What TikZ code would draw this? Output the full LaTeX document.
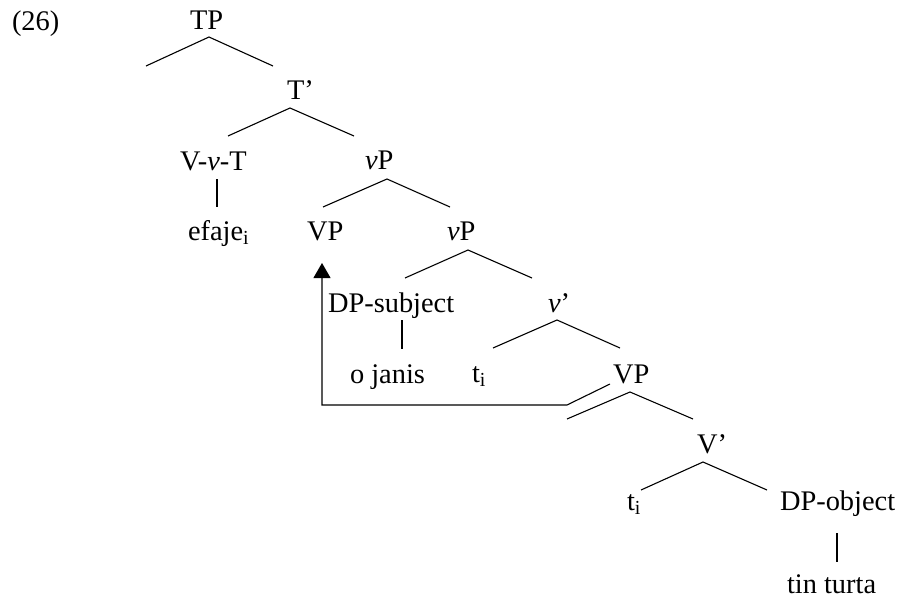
\documentclass[tikz,border=0pt]{standalone}
\usepackage{fontspec}
\setmainfont{Liberation Serif}
\usetikzlibrary{arrows.meta}
\begin{document}
\begin{tikzpicture}[x=0.5pt,y=-0.5pt,
  lbl/.style={anchor=base west, inner sep=0pt, outer sep=0pt, font=\fontsize{14.2}{17}\selectfont},
  br/.style={line width=0.55pt},
  mv/.style={line width=0.55pt, -{Triangle[length=7.5pt,width=8.5pt]}}]
\useasboundingbox (0,0) rectangle (901,600);
% labels
\node[lbl] (num) at (12,30) {(26)};
\node[lbl] (tp) at (190,29) {TP};
\node[lbl] (tbar) at (287,99) {T’};
\node[lbl] (vvt) at (180,170) {V-\textit{v}-T};
\node[lbl] (efaje) at (188,240) {efaje\textsubscript{i}};
\node[lbl] (vpA) at (365,169) {\textit{v}P};
\node[lbl] (VPA) at (307,240) {VP};
\node[lbl] (vpB) at (447,240) {\textit{v}P};
\node[lbl] (dps) at (328,312) {DP-subject};
\node[lbl] (vbar) at (548,312) {\textit{v}’};
\node[lbl] (ojanis) at (350,383) {o janis};
\node[lbl] (tA) at (472,382) {t\textsubscript{i}};
\node[lbl] (VPB) at (613,383) {VP};
\node[lbl] (Vbar) at (697,453) {V’};
\node[lbl] (tB) at (627,510) {t\textsubscript{i}};
\node[lbl] (dpo) at (780,510) {DP-object};
\node[lbl] (tin) at (787,593) {tin turta};
% branch points
\coordinate (tp-a) at (209,37);  \coordinate (tp-l) at (146,66);  \coordinate (tp-r) at (273,66);
\coordinate (tb-a) at (290,108); \coordinate (tb-l) at (228,136); \coordinate (tb-r) at (354,136);
\coordinate (vvt-t) at (217,179); \coordinate (vvt-b) at (217,207);
\coordinate (vpA-a) at (387,179); \coordinate (vpA-l) at (323,207); \coordinate (vpA-r) at (450,207);
\coordinate (vpB-a) at (468,250); \coordinate (vpB-l) at (405,278); \coordinate (vpB-r) at (532,278);
\coordinate (dps-t) at (402,320); \coordinate (dps-b) at (402,349);
\coordinate (vb-a) at (557,320); \coordinate (vb-l) at (493,348); \coordinate (vb-r) at (620,348);
\coordinate (VPB-a) at (630,392); \coordinate (VPB-l) at (567,419); \coordinate (VPB-r) at (693,419);
\coordinate (Vb-a) at (703,462); \coordinate (Vb-l) at (641,490); \coordinate (Vb-r) at (767,490);
\coordinate (dpo-t) at (837,533); \coordinate (dpo-b) at (837,562);
% movement path
\coordinate (mv-s) at (610,384); \coordinate (mv-k) at (567,405); \coordinate (mv-c) at (322,405); \coordinate (mv-e) at (322,263);
% branches
\draw[br] (tp-l) -- (tp-a) -- (tp-r);
\draw[br] (tb-l) -- (tb-a) -- (tb-r);
\draw[br] (vvt-t) -- (vvt-b);
\draw[br] (vpA-l) -- (vpA-a) -- (vpA-r);
\draw[br] (vpB-l) -- (vpB-a) -- (vpB-r);
\draw[br] (dps-t) -- (dps-b);
\draw[br] (vb-l) -- (vb-a) -- (vb-r);
\draw[br] (VPB-l) -- (VPB-a) -- (VPB-r);
\draw[br] (Vb-l) -- (Vb-a) -- (Vb-r);
\draw[br] (dpo-t) -- (dpo-b);
\draw[mv] (mv-s) -- (mv-k) -- (mv-c) -- (mv-e);
\end{tikzpicture}
\end{document}
